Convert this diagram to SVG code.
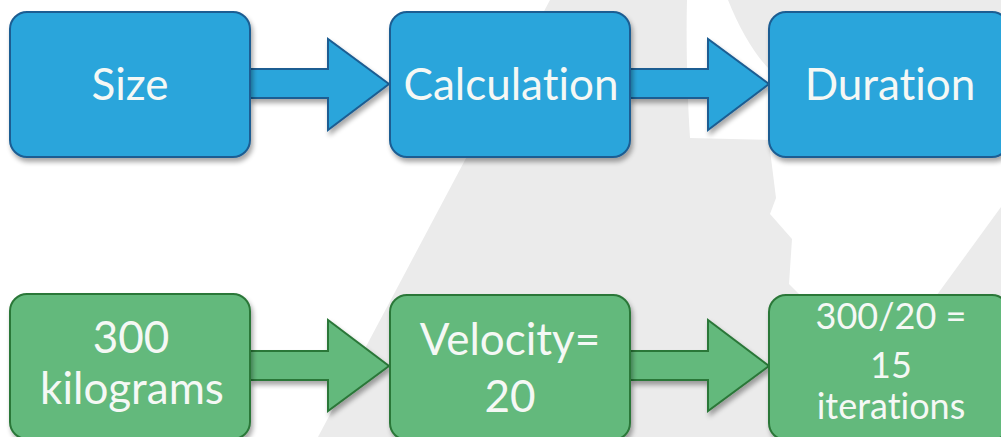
<svg xmlns="http://www.w3.org/2000/svg" width="1001" height="437" viewBox="0 0 1001 437">
  <defs>
    <filter id="shadow" x="-10%" y="-10%" width="130%" height="130%">
      <feGaussianBlur in="SourceAlpha" stdDeviation="2.5"/>
      <feOffset dx="2" dy="4" result="b"/>
      <feComponentTransfer><feFuncA type="linear" slope="0.35"/></feComponentTransfer>
      <feMerge><feMergeNode/><feMergeNode in="SourceGraphic"/></feMerge>
    </filter>
  </defs>
  <style>
    .blue { fill: #29a5db; stroke: #1c5d92; stroke-width: 2; }
    .green { fill: #63b97c; stroke: #2b7739; stroke-width: 2; }
    .lbl { font-family: Lato, "Open Sans", "Liberation Sans", sans-serif; fill: #f5f8f5; text-anchor: middle; font-variant-ligatures: none; font-feature-settings: "liga" 0; }
    .big { font-size: 44px; }
    .small { font-size: 36px; }
  </style>
  <!-- background -->
  <rect x="0" y="0" width="1001" height="437" fill="#ebebeb"/>
  <polygon points="0,0 550,0 318,437 0,437" fill="#ffffff"/>
  <path d="M687,0 L728,0 C740,30 755,55 770,70 L770,140 L690,138 C687,90 686,40 687,0 Z" fill="#ffffff"/>
  <path d="M770,150 L1001,150 L1001,207 L859,402 L849,351 L824,354 L808,303 L789,284 L792,239 L770,214 L776,198 Z" fill="#ffffff"/>

  <g id="connectors">
    <polygon class="blue" filter="url(#shadow)" points="250,69 328,69 328,39 389,84 328,130 328,98 250,98"/>
    <polygon class="blue" filter="url(#shadow)" points="630,69 708,69 708,39 769,84 708,130 708,98 630,98"/>
    <polygon class="green" filter="url(#shadow)" points="250,351 328,351 328,320 389,366 328,411 328,380 250,380"/>
    <polygon class="green" filter="url(#shadow)" points="630,351 708,351 708,320 769,366 708,411 708,380 630,380"/>
  </g>

  <g id="node-size">
    <rect class="blue" filter="url(#shadow)" x="10" y="12" width="240" height="145" rx="17"/>
    <text class="lbl big" x="130" y="100">Size</text>
  </g>
  <g id="node-calculation">
    <rect class="blue" filter="url(#shadow)" x="390" y="12" width="240" height="145" rx="17"/>
    <text class="lbl big" x="511" y="100">Calculation</text>
  </g>
  <g id="node-duration">
    <rect class="blue" filter="url(#shadow)" x="769" y="12" width="240" height="145" rx="17"/>
    <text class="lbl big" x="890" y="100">Duration</text>
  </g>

  <g id="node-300kg">
    <rect class="green" filter="url(#shadow)" x="10" y="294" width="240" height="145" rx="17"/>
    <text class="lbl big" x="131" y="353">300</text>
    <text class="lbl big" x="132" y="404">kilograms</text>
  </g>
  <g id="node-velocity">
    <rect class="green" filter="url(#shadow)" x="390" y="295" width="240" height="145" rx="17"/>
    <text class="lbl big" x="510" y="355">Velocity=</text>
    <text class="lbl big" x="510" y="412">20</text>
  </g>
  <g id="node-iterations">
    <rect class="green" filter="url(#shadow)" x="769" y="295" width="240" height="145" rx="17"/>
    <text class="lbl small" x="891" y="329">300/20 =</text>
    <text class="lbl small" x="891" y="378">15</text>
    <text class="lbl small" x="891" y="419">iterations</text>
  </g>
</svg>
